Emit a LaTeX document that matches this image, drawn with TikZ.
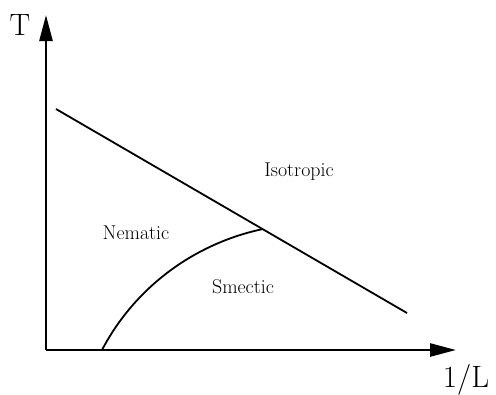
\documentclass[tikz,border=0pt]{standalone}
\usepackage{fontspec}
\usepackage{tikz}
\usetikzlibrary{arrows.meta}

\begin{document}
\begin{tikzpicture}[x=1bp,y=-1bp,
  axis/.style={line width=2.6bp,-{Triangle[length=26bp,width=13bp]}},
  phase/.style={line width=1.8bp},
  region/.style={font=\fontsize{20}{23}\selectfont},
  axlabel/.style={font=\fontsize{31}{36}\selectfont}]
\useasboundingbox (0,0) rectangle (496,394);

\coordinate (O) at (46,350);
\coordinate (ytip) at (46,15);
\coordinate (xtip) at (456,350);

\draw[axis] (O)--(ytip);
\draw[axis] (O)--(xtip);

% phase boundaries
\coordinate (a) at (56,109);
\coordinate (b) at (407,313);
\coordinate (c) at (102,350);
\coordinate (tp) at (263,229);
\draw[phase] (a)--(b);
\draw[phase] (c) .. controls (134.6,287.7) and (194,243.5) .. (tp);

\node[axlabel,anchor=base] (T) at (20,35) {T};
\node[axlabel,anchor=base] (invL) at (466,387) {1/L};

\node[region] (iso) at (299,172) {Isotropic};
\node[region] (nem) at (136,233) {Nematic};
\node[region] (sme) at (243,287) {Smectic};
\end{tikzpicture}
\end{document}
